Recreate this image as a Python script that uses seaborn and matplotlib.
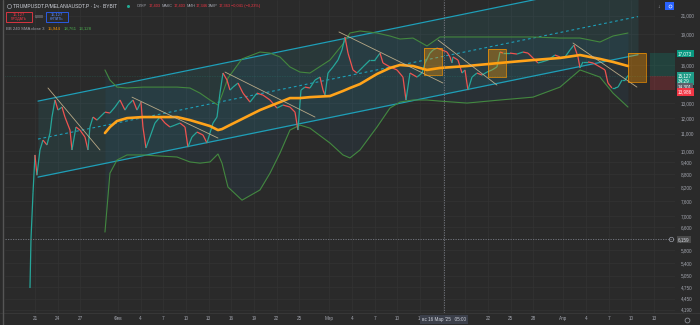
import matplotlib
matplotlib.use("Agg")
import matplotlib.pyplot as plt
import matplotlib.transforms as mtrans
from matplotlib.patches import Rectangle
from matplotlib.ticker import NullLocator
import pandas as pd
import seaborn as sns

# ---------------- data (x = day of year 2025, Jan 1 = 0) ----------------
price_days = [19.34, 19.47, 19.74, 20.00, 20.26, 20.66, 21.06, 21.59, 21.99, 22.25,
              22.65, 23.05, 23.58, 23.97, 24.64, 24.90, 25.43, 25.96, 26.62, 27.02,
              27.28, 27.68, 28.21, 28.61, 29.27, 29.93, 30.60, 31.26, 31.92, 32.32,
              32.98, 33.51, 34.04, 34.30, 34.70, 35.23, 35.89, 36.56, 37.22, 37.88,
              38.54, 39.21, 39.87, 40.26, 40.79, 41.46, 42.25, 42.78, 43.18, 43.58,
              44.11, 44.50, 44.90, 45.43, 45.83, 46.23, 46.89, 47.55, 48.48, 49.40,
              50.20, 51.13, 52.05, 52.85, 53.77, 54.44, 54.83, 55.23, 55.76, 56.42,
              57.09, 57.75, 58.15, 58.41, 58.81, 59.47, 60.13, 60.66, 61.06, 61.46,
              62.12, 62.65, 63.44, 64.37, 65.03, 65.70, 66.09, 67.02, 67.95, 68.74,
              69.14, 69.67, 70.60, 71.26, 71.66, 72.32, 72.72, 73.25, 73.91, 74.57,
              74.97, 75.23, 75.36, 76.03, 76.56, 76.95, 77.35, 77.88, 78.54, 79.21,
              79.87, 80.53, 81.19, 81.59, 81.99, 82.91, 83.84, 84.64, 85.30, 85.96,
              86.62, 87.15, 87.95, 88.87, 89.54, 90.20, 90.86, 91.39, 91.92, 92.19,
              92.58, 93.25, 93.91, 94.83, 95.50, 95.89, 96.42, 96.82, 97.22, 97.75,
              98.15, 98.54]
price_close = [4720, 6160, 7950, 9790, 8760, 10060, 10620, 10340, 11040, 12050,
               13230, 12520, 12730, 12050, 11220, 10060, 11410, 11220, 10800, 10060,
               11410, 12050, 11850, 12050, 12380, 12320, 12730, 13230, 12520, 12870,
               13230, 12520, 13080, 11410, 10170, 10800, 11660, 12050, 11660, 11410,
               11530, 11660, 11410, 10220, 10800, 11100, 10920, 10450, 11040, 11660,
               12050, 13740, 15340, 14760, 13970, 14200, 14520, 13740, 13080, 13740,
               13590, 13230, 12660, 12870, 12730, 12380, 11220, 13970, 14200, 14130,
               14760, 15000, 13970, 13590, 15340, 15860, 16470, 17400, 18690, 17110,
               15600, 15340, 15860, 16470, 16470, 17110, 16210, 15860, 15600, 15000,
               13230, 15340, 15000, 15340, 16210, 17110, 17400, 17590, 17400, 17210,
               16750, 16210, 16750, 16470, 15340, 15600, 13970, 15000, 15340, 15170,
               15420, 15600, 15860, 17210, 17110, 17110, 17020, 17210, 17110, 16660,
               16210, 16300, 16470, 16930, 16750, 16750, 17400, 17880, 16750, 15770,
               16300, 16300, 16210, 15860, 15600, 14520, 14130, 14130, 14200, 14760,
               14760, 15127]

bb_days = [29.27, 29.93, 30.86, 32.19, 34.30, 36.56, 38.81, 40.53, 41.85, 43.18,
           44.24, 44.77, 45.56, 47.42, 49.80, 51.13, 52.45, 53.77, 55.10, 56.42,
           59.07, 60.79, 61.72, 63.05, 65.30, 67.02, 68.34, 70.07, 71.92, 73.64,
           77.22, 81.59, 85.96, 89.54, 92.19, 94.83, 96.56, 98.54]
bb_basis = [11040, 11410, 11790, 11980, 12050, 12050, 12050, 11850, 11660, 11470,
            11220, 11280, 11470, 11920, 12520, 12800, 13080, 13370, 13370, 13440,
            13520, 13900, 14130, 14440, 15260, 15770, 16030, 15940, 15600, 15770,
            15940, 16210, 16470, 16660, 16930, 16570, 16300, 15940]
bb_upper = [15600, 14760, 14200, 14130, 14200, 14200, 14200, 14130, 13740, 13230,
            12870, 13590, 14920, 16570, 17210, 17110, 16750, 15860, 15420, 15340,
            16470, 17980, 19100, 19310, 19100, 18790, 18480, 18580, 17790, 18690,
            18690, 18690, 18690, 18580, 18580, 18180, 18790, 19100]
bb_lower = [6415, 8860, 9520, 9790, 9790, 9730, 9680, 9420, 9360, 9420,
            9840, 9360, 8210, 7640, 8080, 8860, 9890, 11220, 11530, 11340,
            10450, 9790, 9630, 10060, 11410, 12660, 13080, 13230, 13230, 13150,
            13010, 13230, 13440, 14200, 15600, 15000, 13740, 12730]

chan_days = [20.40, 99.87]
chan_upper = [13150, 25740]
chan_mid = [10680, 20900]
chan_lower = [8670, 16960]

trend_lines = [((21.72, 14130), (28.61, 10060)),
               ((32.85, 13440), (44.24, 10740)),
               ((45.17, 15420), (57.09, 12050)),
               ((60.26, 19210), (74.04, 14520)),
               ((73.38, 18380), (81.19, 14360)),
               ((91.26, 18080), (99.73, 14200))]

zone_boxes = [(71.52, 73.91, 15170, 17590),
              (80.00, 82.38, 15000, 17500),
              (98.54, 100.93, 14600, 17073)]

pos_start, pos_end = 101.46, 104.77
pos_entry, pos_target, pos_stop = 15127, 17073, 13986

crosshair_day = 74.21
crosshair_price = 6159
last_price = 15127

xtick_days = [20, 23, 26, 31, 34, 37, 40, 43, 46, 49, 52, 55, 59, 62, 65, 68, 71,
              74, 77, 80, 83, 86, 90, 93, 96, 99, 102]
# labels for Mar 16 and Mar 19 are hidden under the crosshair date label
xtick_labels = ['21', '24', '27', 'Фев', '4', '7', '10', '13', '16', '19', '22', '25',
                'Мар', '4', '7', '10', '13', '', '', '22', '25', '28', 'Апр',
                '4', '7', '10', '13']
ytick_vals = [21000, 19000, 16000, 13000, 12000, 11000, 10000, 9400, 8800, 8200,
              7600, 7000, 6600, 5800, 5400, 5050, 4750, 4450, 4190]

# ---------------- style ----------------
sns.set_theme(style="dark")
plt.rcParams['font.family'] = ['Liberation Sans', 'DejaVu Sans']

BG = '#2a2a2a'
GRID = '#333333'
TXT = '#a3a6af'
UP = '#26a69a'
DOWN = '#ef5350'
FS = 3.3

fig = plt.figure(figsize=(7, 3.25), dpi=100, facecolor=BG)
ax = fig.add_axes([5 / 700, 12 / 325, 670 / 700, 313 / 325])
ax.set_facecolor(BG)
ax.set_yscale('log')
ax.set_xlim(16.03, 104.77)
ax.set_ylim(4116, 22890)

for d in xtick_days:
    ax.axvline(d, color=GRID, lw=0.5, zorder=0)
for v in ytick_vals:
    ax.axhline(v, color=GRID, lw=0.5, zorder=0)

# regression channel
ax.fill_between(chan_days, chan_lower, chan_upper, color='#26c6da', alpha=0.09, lw=0, zorder=1)
ax.plot(chan_days, chan_upper, color='#1e9fb8', lw=0.9, zorder=2)
ax.plot(chan_days, chan_lower, color='#1e9fb8', lw=0.9, zorder=2)
ax.plot(chan_days, chan_mid, color='#1e9fb8', lw=0.8, ls=(0, (2.5, 2.5)), zorder=2)

# Bollinger bands
bb = pd.DataFrame({'day': bb_days, 'basis': bb_basis, 'upper': bb_upper, 'lower': bb_lower})
ax.fill_between(bb['day'], bb['lower'], bb['upper'], color='#2196f3', alpha=0.06, lw=0, zorder=1)
sns.lineplot(data=bb, x='day', y='upper', color='#43883f', lw=0.8, ax=ax, zorder=3)
sns.lineplot(data=bb, x='day', y='lower', color='#43883f', lw=0.8, ax=ax, zorder=3)

# price (candles as up/down coloured steps)
px = pd.DataFrame({'day': price_days, 'close': price_close})
for i in range(1, len(px)):
    c = UP if px['close'][i] >= px['close'][i - 1] else DOWN
    ax.plot([px['day'][i - 1], px['day'][i]], [px['close'][i - 1], px['close'][i]],
            color=c, lw=0.9, solid_capstyle='butt', zorder=4)

sns.lineplot(data=bb, x='day', y='basis', color='#ffa31a', lw=1.9, ax=ax, zorder=5)

# trend lines
for (d0, p0), (d1, p1) in trend_lines:
    ax.plot([d0, d1], [p0, p1], color='#c8b58f', lw=0.6, alpha=0.9, zorder=6)

# zone boxes
for d0, d1, p0, p1 in zone_boxes:
    ax.add_patch(Rectangle((d0, p0), d1 - d0, p1 - p0, facecolor='#ff9800', alpha=0.35,
                           edgecolor='none', zorder=6))
    ax.add_patch(Rectangle((d0, p0), d1 - d0, p1 - p0, facecolor='none',
                           edgecolor='#ff9800', lw=0.6, alpha=0.8, zorder=6))

# long position tool
ax.add_patch(Rectangle((pos_start, pos_entry), pos_end - pos_start, pos_target - pos_entry,
                       facecolor='#089981', alpha=0.22, lw=0, zorder=2))
ax.add_patch(Rectangle((pos_start, pos_stop), pos_end - pos_start, pos_entry - pos_stop,
                       facecolor='#f23645', alpha=0.22, lw=0, zorder=2))

# crosshair and last price line
ax.axvline(crosshair_day, color='#7a7d86', lw=0.6, ls=(0, (1.5, 1.5)), zorder=7)
ax.axhline(crosshair_price, color='#7a7d86', lw=0.6, ls=(0, (1.5, 1.5)), zorder=7)
ax.axhline(last_price, color='#22ab94', lw=0.4, ls=(0, (1, 2)), alpha=0.5, zorder=1)

# axes ticks
ax.yaxis.tick_right()
ax.set_yticks(ytick_vals)
ax.set_yticklabels([f"{v:,}" for v in ytick_vals])
ax.yaxis.set_minor_locator(NullLocator())
ax.set_xticks(xtick_days)
ax.set_xticklabels(xtick_labels)
ax.tick_params(axis='y', length=0, pad=4, labelsize=FS, labelcolor=TXT)
ax.tick_params(axis='x', length=0, pad=2.5, labelsize=FS, labelcolor=TXT)
ax.set_xlabel('')
ax.set_ylabel('')
ax.grid(False)
for s in ax.spines.values():
    s.set_visible(False)

# right-side price labels
tr = mtrans.blended_transform_factory(ax.transAxes, ax.transData)
def plabel(price, text, fc, dy=0, color='white'):
    ax.annotate(text, xy=(1.0, price), xycoords=tr, xytext=(2.2, dy), textcoords='offset points',
                ha='left', va='center', fontsize=FS, color=color, linespacing=1.1,
                bbox=dict(boxstyle='square,pad=0.3', fc=fc, ec='none'), zorder=10,
                annotation_clip=False)

plabel(pos_target, '17,073', '#089981')
plabel(last_price, '15,127\n34:29', '#1f9c88', dy=-2.2)
plabel(14301, '14,301', '#5d606b', dy=-1.0)
plabel(pos_stop, '13,986', '#f23645', dy=-1.5)
plabel(crosshair_price, '6,159', '#4a4a4a', color='#d1d4dc')
ax.plot([1.0 - 4 / 670], [crosshair_price], transform=tr, marker='o', ms=3.2, mfc='none',
        mec='#9a9da6', mew=0.5, clip_on=False, zorder=10)

# ---------------- figure-level decorations ----------------
def fx(x):
    return x / 700
def fy(y):
    return 1 - y / 325

fig.add_artist(plt.Line2D([0, 1], [fy(313), fy(313)], color='#3a3a3a', lw=0.6))
fig.add_artist(plt.Line2D([fx(3), fx(3)], [0, 1], color='#555555', lw=1.0))

# crosshair date label
fig.text(fx(444), fy(319.5), "вс 16 Мар '25   05:00", ha='center', va='center', fontsize=FS,
         color='#d1d4dc', bbox=dict(boxstyle='square,pad=0.35', fc='#3b3f4a', ec='none'))

# header row 1
fig.add_artist(plt.Line2D([fx(8.5)], [fy(6)], marker='o', ms=3, mfc='none', mec='#9a9da6', mew=0.5))
fig.text(fx(13), fy(6), 'TRUMPUSDT.P/MELANIAUSDT.P · 1ч · BYBIT', ha='left', va='center',
         fontsize=3.6, color='#d1d4dc')
fig.add_artist(plt.Line2D([fx(128)], [fy(6)], marker='o', ms=2.2, mfc='#22ab94', mec='none'))
ohlc = [(137, 'ОТКР', TXT), (148.5, '17,403', '#f23645'), (162, 'МАКС', TXT),
        (173.5, '17,403', '#f23645'), (186.5, 'МИН', TXT), (195.5, '17,346', '#f23645'),
        (208, 'ЗАКР', TXT), (218.5, '17,363', '#f23645'), (231, '−0,041 (−0,23%)', '#f23645')]
for x, s, c in ohlc:
    fig.text(fx(x), fy(6), s, ha='left', va='center', fontsize=2.8, color=c)

# header row 2 (sell / buy buttons)
fig.add_artist(Rectangle((fx(6), fy(22)), fx(26), 10 / 325, facecolor='#2a2a2a',
                         edgecolor='#f23645', lw=0.6, transform=fig.transFigure))
fig.text(fx(19), fy(14.5), '15,127', ha='center', va='center', fontsize=2.9, color='#f23645')
fig.text(fx(19), fy(19.3), 'ПРОДАТЬ', ha='center', va='center', fontsize=2.5, color='#f23645')
fig.text(fx(39), fy(16.5), '0,000', ha='center', va='center', fontsize=2.5, color=TXT)
fig.add_artist(Rectangle((fx(46), fy(22)), fx(22), 10 / 325, facecolor='#2a2a2a',
                         edgecolor='#2962ff', lw=0.6, transform=fig.transFigure))
fig.text(fx(57), fy(14.5), '15,127', ha='center', va='center', fontsize=2.9, color='#5b8cff')
fig.text(fx(57), fy(19.3), 'КУПИТЬ', ha='center', va='center', fontsize=2.5, color='#5b8cff')

# header row 3 (indicator legend)
fig.text(fx(6), fy(29), 'BB 240 SMA close 3', ha='left', va='center', fontsize=3.1, color=TXT)
fig.text(fx(48), fy(29), '15,944', ha='left', va='center', fontsize=3.1, color='#ff9800')
fig.text(fx(64), fy(29), '18,761', ha='left', va='center', fontsize=3.1, color='#4caf50')
fig.text(fx(79), fy(29), '13,128', ha='left', va='center', fontsize=3.1, color='#4caf50')

# top-right icons
fig.text(fx(659), fy(6), '↓', ha='center', va='center', fontsize=3.5, color='#b2b5be')
fig.add_artist(Rectangle((fx(665), fy(10)), fx(9), 8 / 325, facecolor='#2962ff',
                         edgecolor='none', transform=fig.transFigure))
fig.add_artist(plt.Line2D([fx(669.5)], [fy(6)], marker='o', ms=2.2, mfc='none', mec='white', mew=0.4))
# settings icon bottom-right
fig.add_artist(plt.Line2D([fx(687)], [fy(320)], marker='o', ms=3.5, mfc='none', mec='#9a9da6', mew=0.5))

fig.savefig('out.png', dpi=100, facecolor=BG)
